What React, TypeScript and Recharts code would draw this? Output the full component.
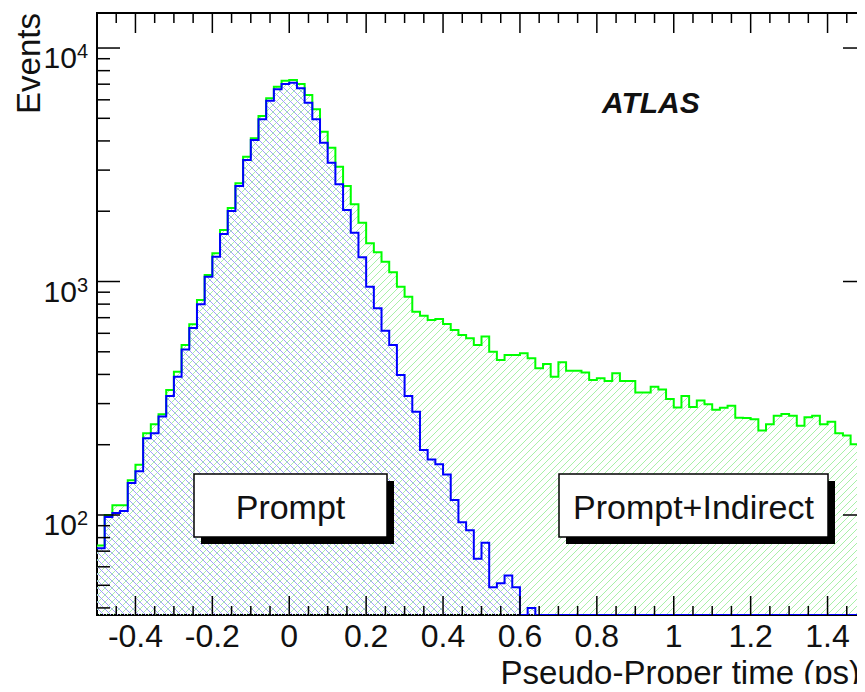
import React from "react";
import { ComposedChart, Area, XAxis, YAxis, ReferenceArea } from "recharts";

// histogram binning: 100 bins of 0.02 ps from -0.5 ps
const BIN_START = -0.5;
const BIN_WIDTH = 0.02;

// prompt component (blue)
const promptCounts = [
  72, 98, 102, 104, 137, 154, 213, 224, 264, 323,
  391, 512, 632, 799, 1049, 1277, 1597, 2004, 2565, 3314,
  4036, 4950, 5947, 6654, 7012, 7103, 6720, 5831, 4950, 3930,
  3227, 2608, 2024, 1618, 1270, 950, 768, 616, 535, 398,
  323, 277, 190, 173, 165, 149, 116, 93, 86, 65,
  76, 49, 51, 55, 49, 0, 40, 0, 0, 0,
  0, 0, 0, 0, 0, 0, 0, 0, 0, 0,
  0, 0, 0, 0, 0, 0, 0, 0, 0, 0,
  0, 0, 0, 0, 0, 0, 0, 0, 0, 0,
  0, 0, 0, 0, 0, 0, 0, 0, 0, 0,
];

// prompt + indirect (green)
const totalCounts = [
  74, 100, 110, 110, 141, 164, 224, 245, 270, 343,
  411, 535, 656, 833, 1066, 1321, 1662, 2064, 2634, 3424,
  4105, 5115, 6089, 6827, 7244, 7295, 7012, 6290, 5464, 4380,
  3741, 3101, 2565, 2141, 1786, 1458, 1334, 1215, 1095, 950,
  861, 743, 714, 684, 691, 658, 620, 590, 571, 535,
  582, 500, 461, 484, 484, 493, 469, 425, 443, 391,
  451, 415, 415, 408, 379, 385, 375, 405, 375, 375,
  335, 335, 354, 345, 314, 289, 323, 290, 309, 298,
  282, 288, 294, 261, 260, 257, 230, 245, 266, 271,
  266, 241, 262, 266, 245, 251, 224, 219, 201, 219,
];

const X_MAJOR = [-0.4, -0.2, 0, 0.2, 0.4, 0.6, 0.8, 1, 1.2, 1.4];
const Y_DECADES = [100, 1000, 10000];

const X_MIN = -0.5;
const X_MAX = 1.5;
const Y_MIN = 37.3;
const Y_MAX = 14125;

const PLOT_W = 769;
const PLOT_H = 602;

const clampY = (v: number) => Math.max(v, Y_MIN);

const rows = promptCounts.map((p, i) => ({
  x: +(BIN_START + i * BIN_WIDTH).toFixed(2),
  prompt: clampY(p),
  total: clampY(totalCounts[i]),
}));
// closing edge of the last bin
rows.push({
  x: X_MAX,
  prompt: clampY(promptCounts[promptCounts.length - 1]),
  total: clampY(totalCounts[totalCounts.length - 1]),
});

// minor ticks every 0.05, majors every 0.2
const xTicks: number[] = [];
for (let k = -9; k <= 29; k++) xTicks.push(+(k * 0.05).toFixed(2));

const yTicks: number[] = [];
for (const d of [10, 100, 1000]) {
  for (let m = 1; m <= 9; m++) {
    const v = d * m;
    if (v >= 40) yTicks.push(v);
  }
}
yTicks.push(10000);

const FONT = "'Liberation Sans', Arial, Helvetica, sans-serif";

const XTick = (props: any) => {
  const { x, y, payload } = props;
  const v = payload.value;
  const major = X_MAJOR.some((m) => Math.abs(m - v) < 1e-6);
  const len = major ? 19 : 9;
  const lenTop = major ? 20 : 10;
  const top = y - PLOT_H;
  return (
    <g>
      <line x1={x} y1={y} x2={x} y2={y - len} stroke="#000" strokeWidth={1.5} />
      <line x1={x} y1={top} x2={x} y2={top + lenTop} stroke="#000" strokeWidth={1.5} />
      {major && (
        <text x={x} y={y + 32} textAnchor="middle" fontSize={32} fontFamily={FONT} fill="#111">
          {String(Number(v.toFixed(1)))}
        </text>
      )}
    </g>
  );
};

const YTick = (props: any) => {
  const { x, y, payload } = props;
  const v = payload.value;
  const major = Y_DECADES.includes(v);
  const len = major ? 23 : 13;
  const right = x + PLOT_W;
  return (
    <g>
      <line x1={x} y1={y} x2={x + len} y2={y} stroke="#000" strokeWidth={1.5} />
      <line x1={right} y1={y} x2={right - (major ? 23 : 9)} y2={y} stroke="#000" strokeWidth={1.5} />
      {major && (
        <text x={x - 9} y={y + 20} textAnchor="end" fontSize={30} fontFamily={FONT} fill="#111">
          10
          <tspan dy={-10} fontSize={20}>
            {Math.round(Math.log10(v))}
          </tspan>
        </text>
      )}
    </g>
  );
};

export default function App() {
  return (
    <div
      style={{
        margin: -8,
        width: 865,
        height: 692,
        position: "relative",
        overflow: "hidden",
        background: "#fff",
      }}
    >
      <ComposedChart
        width={870}
        height={692}
        data={rows}
        margin={{ top: 13, right: 4, bottom: 0, left: 0 }}
      >
        <defs>
          <pattern id="hatchGreen" width="7" height="7" patternUnits="userSpaceOnUse">
            <path d="M-1,1 l2,-2 M0,7 l7,-7 M6,8 l2,-2" stroke="#a8f0a8" strokeWidth="1" />
          </pattern>
          <pattern id="hatchBlue" width="7" height="7" patternUnits="userSpaceOnUse">
            <path d="M-1,6 l2,2 M0,0 l7,7 M6,-1 l2,2" stroke="#a0a0f8" strokeWidth="1" />
          </pattern>
        </defs>
        <XAxis
          dataKey="x"
          type="number"
          domain={[X_MIN, X_MAX]}
          allowDataOverflow
          ticks={xTicks}
          interval={0}
          tick={<XTick />}
          tickLine={false}
          axisLine={false}
          tickSize={0}
          tickMargin={0}
          height={77}
        />
        <YAxis
          type="number"
          scale="log"
          domain={[Y_MIN, Y_MAX]}
          allowDataOverflow
          ticks={yTicks}
          interval={0}
          tick={<YTick />}
          tickLine={false}
          axisLine={false}
          tickSize={0}
          tickMargin={0}
          width={97}
        />
        <ReferenceArea
          x1={X_MIN}
          x2={X_MAX}
          y1={Y_MIN}
          y2={Y_MAX}
          fill="none"
          stroke="#000"
          strokeWidth={2}
          ifOverflow="visible"
        />
        <Area
          dataKey="total"
          type="stepAfter"
          stroke="#00ff00"
          strokeWidth={2}
          fill="url(#hatchGreen)"
          fillOpacity={1}
          baseValue={Y_MIN}
          dot={false}
          activeDot={false}
          isAnimationActive={false}
        />
        <Area
          dataKey="prompt"
          type="stepAfter"
          stroke="#0000ff"
          strokeWidth={2}
          fill="url(#hatchBlue)"
          fillOpacity={1}
          baseValue={Y_MIN}
          dot={false}
          activeDot={false}
          isAnimationActive={false}
        />
      </ComposedChart>
      <svg
        width={865}
        height={692}
        style={{ position: "absolute", left: 0, top: 0, pointerEvents: "none" }}
        fontFamily={FONT}
      >
        <text x={602} y={113} fontSize={30} fontWeight="bold" fontStyle="italic" fill="#111">
          ATLAS
        </text>
        <text transform="translate(40,13) rotate(-90)" textAnchor="end" fontSize={33} fill="#111">
          Events
        </text>
        <text x={860} y={684} textAnchor="end" fontSize={33} fill="#111">
          Pseudo-Proper time (ps)
        </text>

        <rect x={201} y={481} width={193} height={63} fill="#000" />
        <rect x={194} y={474} width={193} height={63} fill="#fff" stroke="#000" strokeWidth={1.5} />
        <text x={290.5} y={519} textAnchor="middle" fontSize={34} fill="#111">
          Prompt
        </text>

        <rect x={566} y={481} width={269} height={63} fill="#000" />
        <rect x={559} y={474} width={269} height={63} fill="#fff" stroke="#000" strokeWidth={1.5} />
        <text x={693.5} y={519} textAnchor="middle" fontSize={34} fill="#111">
          Prompt+Indirect
        </text>
      </svg>
    </div>
  );
}
